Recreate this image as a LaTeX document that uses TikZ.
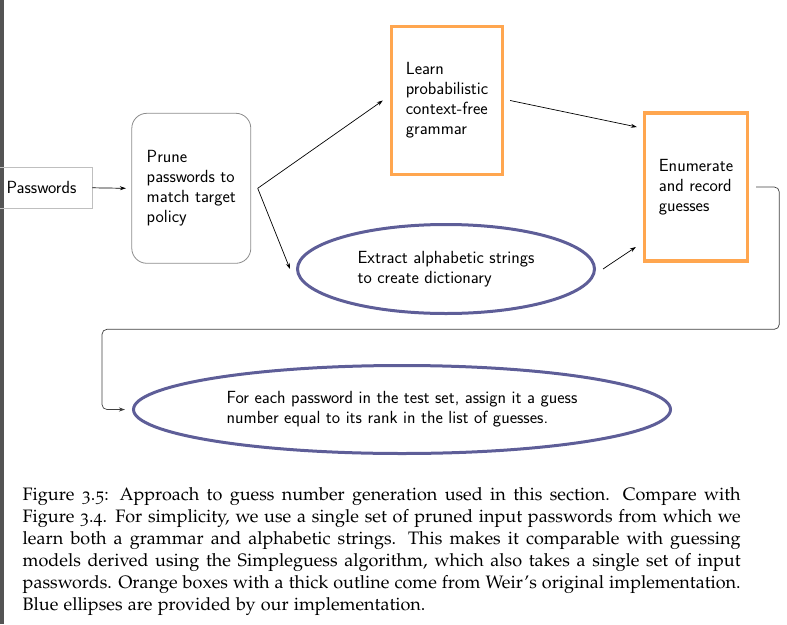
\documentclass[tikz,border=0pt]{standalone}
\usepackage[T1,TU]{fontenc}
\usetikzlibrary{shapes.geometric,arrows.meta}
\definecolor{weirorange}{HTML}{FFA64F}
\definecolor{ourblue}{HTML}{5E5E98}
\definecolor{edgebar}{HTML}{545454}
\begin{document}
\begin{tikzpicture}
[x=1pt, y=-1pt, font=\sffamily\fontsize{17.6}{20}\selectfont, >={Stealth[length=6pt,width=4pt]}]
\tikzstyle{inputbox}=[rectangle, draw=black!25, line width=0.9pt, minimum width=101pt, minimum height=41pt]
\tikzstyle{prunebox}=[rectangle, rounded corners=15pt, draw=black!45, line width=0.8pt, align=left, minimum height=150pt]
\tikzstyle{weirbox}=[rectangle, draw=weirorange, line width=3.3pt, align=left, minimum height=148pt]
\tikzstyle{ourell}=[ellipse, draw=ourblue, line width=3pt, align=left]
\tikzstyle{arr}=[->, line width=0.7pt]

\useasboundingbox (0,0) rectangle (787,624);
\fill[edgebar] (0,0) rectangle (4,624);

\node[inputbox]	(pw)		at (41.5,187.8)	{Passwords};
\node[prunebox, minimum width=119pt]	(prune)	at (191.3,188.3)	{Prune\\passwords to\\match target\\policy};
\node[weirbox, minimum width=111pt]	(learn)	at (447,100.5)	{Learn\\probabilistic\\context-free\\grammar};
\node[weirbox, minimum width=103pt]	(enum)	at (696,187)	{Enumerate\\and record\\guesses};
\node[ourell, minimum width=297pt, minimum height=89pt]	(extract)	at (446,269)	{Extract alphabetic strings\\to create dictionary};
\node[ourell, minimum width=537pt, minimum height=88pt]	(test)	at (402,409.5)	{For each password in the test set, assign it a guess\\number equal to its rank in the list of guesses.};

\node[anchor=north west, text width=718pt, align=justify, inner sep=0pt,
  font=\fontencoding{T1}\fontfamily{pplj}\fontsize{18}{22.1}\selectfont] (caption) at (22.5,487)
  {Figure 3.5: Approach to guess number generation used in this section.  Compare with\linebreak
   Figure 3.4. For simplicity, we use a single set of pruned input passwords from which we\linebreak
   learn both a grammar and alphabetic strings.  This makes it comparable with guessing\linebreak
   models derived using the Simpleguess algorithm, which also takes a single set of input\linebreak
   passwords. Orange boxes with a thick outline come from Weir's original implementation.\linebreak
   Blue ellipses are provided by our implementation.};

\coordinate (fork)	at ([xshift=6.5pt]prune.east);
\coordinate (loopturn)	at (779.3,329.3);

\draw[arr]	(pw.east) -- ([xshift=-5.5pt]prune.west);
\draw[arr]	(fork) -- ([xshift=-7pt]learn.west);
\draw[arr]	(fork) -- ([xshift=-6pt]extract.west);
\draw[arr]	([xshift=6pt]learn.east) -- ([xshift=-6pt,yshift=60pt]enum.west);
\draw[arr]	([xshift=7pt]extract.east) -- ([xshift=-7pt,yshift=-60pt]enum.west);
\draw[arr, draw=black!75, rounded corners=5pt]	([xshift=7pt]enum.east) -| (loopturn) -| ([xshift=-30pt]test.west) -- ([xshift=-7pt]test.west);
\end{tikzpicture}
\end{document}
